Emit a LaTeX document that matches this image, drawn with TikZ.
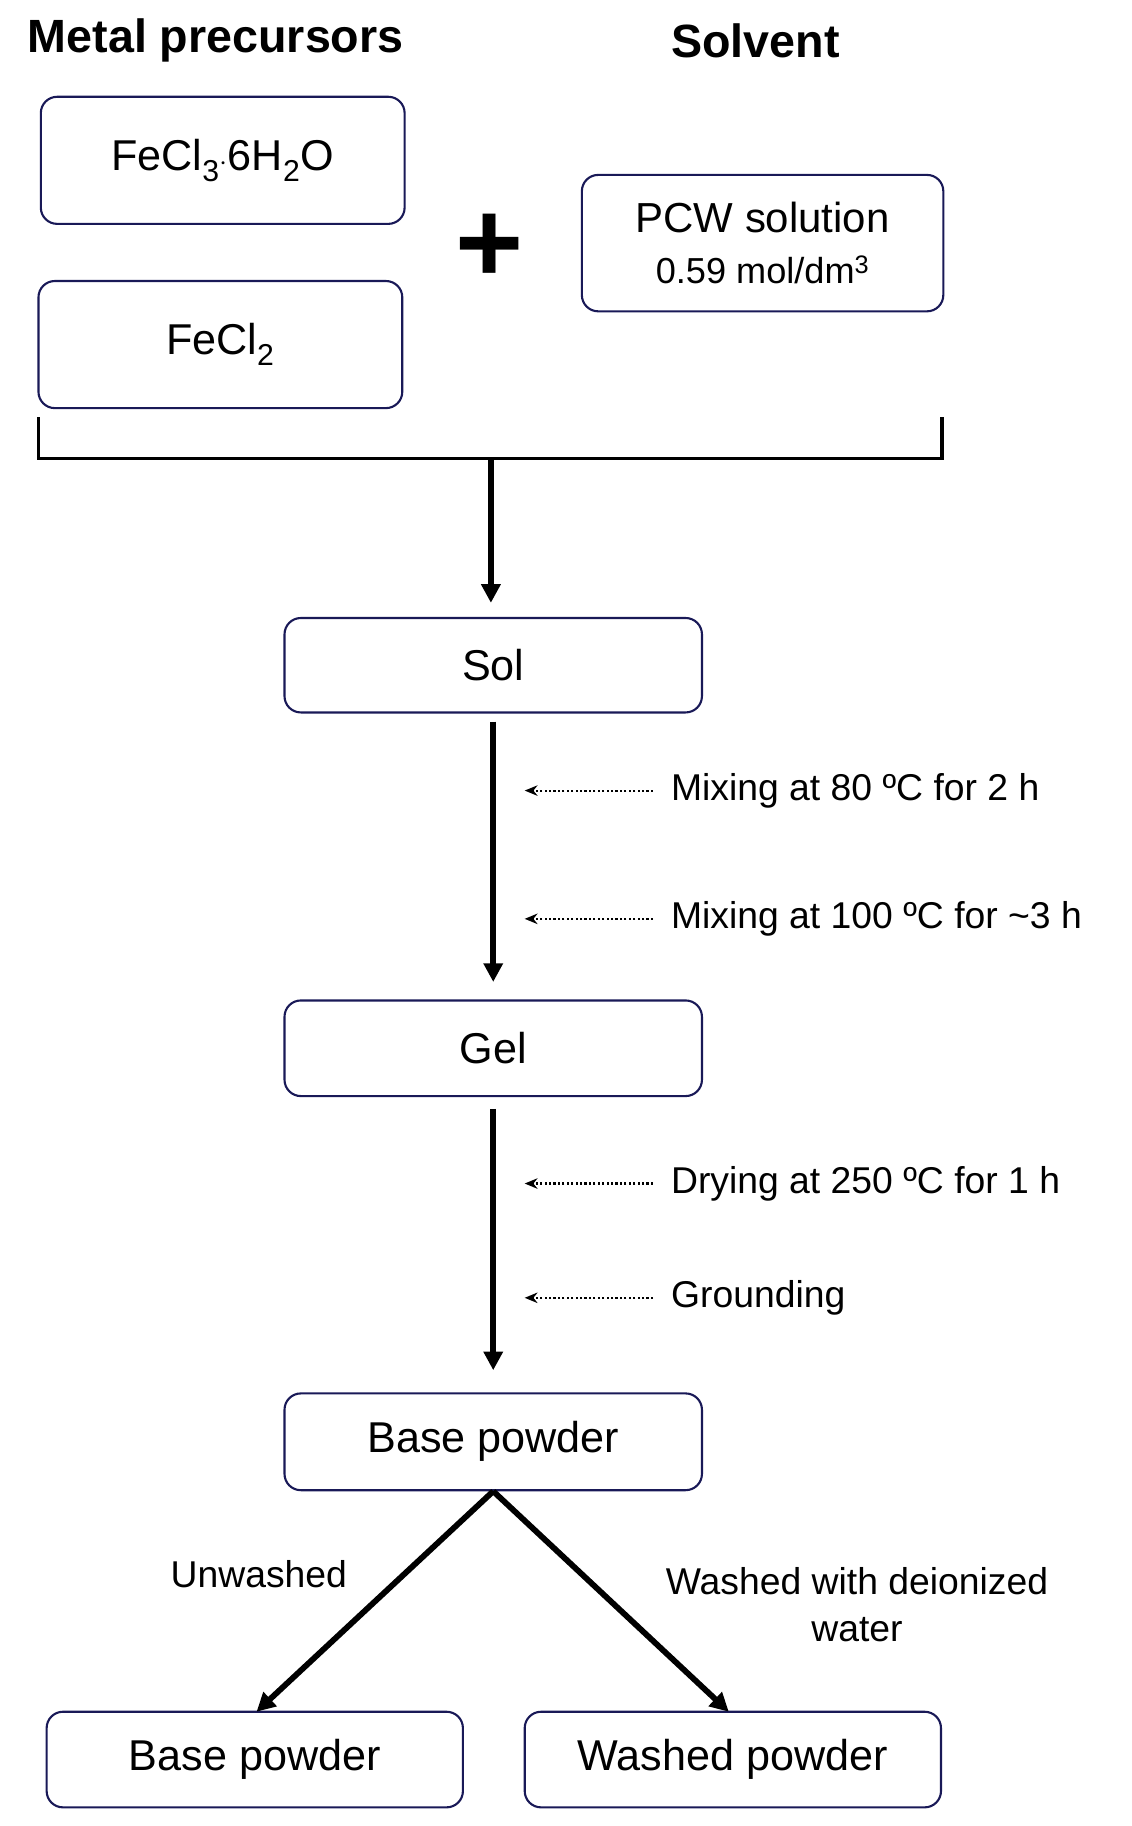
\documentclass[tikz,border=0pt]{standalone}
\usepackage{fontspec}
\setmainfont{Liberation Sans}
\usetikzlibrary{arrows.meta}
\begin{document}
\begin{tikzpicture}[x=1pt,y=-1pt,
  box/.style={draw=black!70!blue!80!gray,line width=1.8pt,rounded corners=14pt,inner sep=0pt},
  lab/.style={font=\fontsize{32}{38}\selectfont,anchor=west},
  main/.style={line width=5pt,-{Triangle[length=16pt,width=16pt]}},
  dot/.style={line width=1.8pt,dotted,-{Stealth[length=11pt,width=9pt]}}]
\useasboundingbox (0,0) rectangle (970,1566);
\node[font=\fontsize{40}{46}\selectfont\bfseries] (h1) at (185,35) {Metal precursors};
\node[font=\fontsize{40}{46}\selectfont\bfseries] (h2) at (648,35) {Solvent};
\node[box,minimum width=312pt,minimum height=109pt,font=\fontsize{37}{42}\selectfont] (b1) at (191,137.5) {FeCl\textsubscript{3}$\cdot$6H\textsubscript{2}O};
\node[box,minimum width=312pt,minimum height=109pt,font=\fontsize{37}{42}\selectfont] (b2) at (189,295.5) {FeCl\textsubscript{2}};
\node[box,minimum width=310pt,minimum height=117pt,align=center] (b3) at (654,208.5) {{\fontsize{36}{42}\selectfont PCW solution}\\[18pt]{\fontsize{31}{36}\selectfont 0.59 mol/dm\textsuperscript{3}}};
\node[font=\fontsize{100}{100}\selectfont\bfseries] (plus) at (420,213) {+};
\coordinate (bl) at (33,358); \coordinate (br) at (808,358);
\coordinate (bm) at (421,393);
\draw[line width=3pt] (bl) |- (bm) -| (br);
\node[box,minimum width=358pt,minimum height=81pt,font=\fontsize{37}{42}\selectfont] (sol) at (423,570.5) {Sol};
\node[box,minimum width=358pt,minimum height=82pt,font=\fontsize{37}{42}\selectfont] (gel) at (423,899) {Gel};
\node[box,minimum width=358pt,minimum height=83pt,font=\fontsize{37}{42}\selectfont] (bp) at (423,1236.5) {Base powder};
\node[box,minimum width=357pt,minimum height=82pt,font=\fontsize{37}{42}\selectfont] (bp2) at (218.5,1509) {Base powder};
\node[box,minimum width=357pt,minimum height=82pt,font=\fontsize{37}{42}\selectfont] (wp) at (628.5,1509) {Washed powder};
\draw[main] (bm) -- (421,517);
\draw[main] ([yshift=-7pt]sol.south) -- ([yshift=15pt]gel.north);
\draw[main] ([yshift=-10pt]gel.south) -- ([yshift=19pt]bp.north);
\draw[main] (bp.south) -- (220,1468);
\draw[main] (bp.south) -- (625,1468);
\foreach \y/\t/\n in {678/Mixing at 80 ºC for 2 h/m1,788/Mixing at 100 ºC for \textasciitilde3 h/m2,1015/Drying at 250 ºC for 1 h/d1,1113/Grounding/g1}{
  \node[lab] (\n) at (572,\y) {\t};
  \draw[dot] ([xshift=-12pt]\n.west) -- (450,\y);
}
\node[font=\fontsize{32}{38}\selectfont] (uw) at (222,1350) {Unwashed};
\node[font=\fontsize{32}{40}\selectfont,align=center] (ww) at (735,1376) {Washed with deionized\\water};
\end{tikzpicture}
\end{document}
